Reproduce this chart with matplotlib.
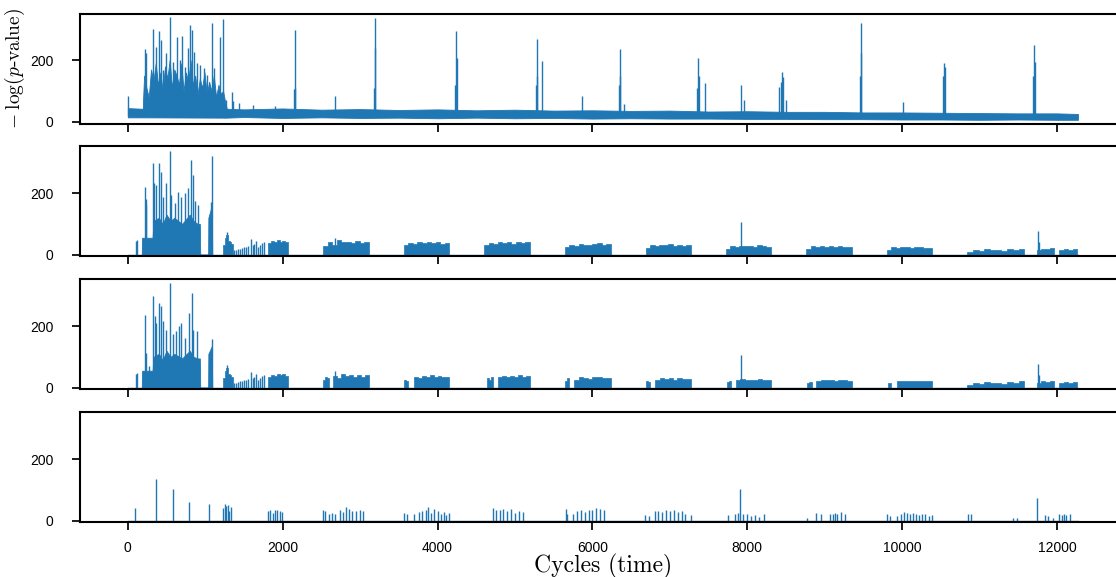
import numpy as np
import matplotlib.pyplot as plt

plt.rcParams['mathtext.fontset'] = 'cm'
plt.rcParams['font.family'] = ['Liberation Sans', 'DejaVu Sans']

blue = '#1f77b4'

# ---- panel 1 : raw score, noisy band + spikes
band_x = [0, 190, 1270, 1500, 2000, 2500, 3000, 3500, 4000, 4500, 5000, 5500, 6000, 6500, 7000,
          7500, 8000, 8500, 9000, 9500, 10000, 10500, 11000, 11500, 12000, 12270]
band_lo = [14, 14, 13, 15, 12, 14, 12, 13, 11, 13, 11, 12, 10, 11, 10, 10, 9, 9, 8, 8, 7, 7, 6, 7, 6, 6]
band_hi = [44, 42, 42, 40, 43, 39, 41, 38, 40, 37, 39, 36, 37, 35, 36, 33, 34, 32, 32, 30, 30, 29, 28, 27, 27, 25]

burst1_x = [195, 210, 240, 270, 300, 330, 360, 390, 420, 450, 480, 510, 540, 570, 600, 630, 660, 690,
            720, 750, 780, 810, 840, 870, 900, 930, 960, 990, 1020, 1050, 1080, 1110, 1140, 1170,
            1200, 1230, 1260, 1280]
burst1_lo = [20, 30, 25, 30, 40, 30, 45, 35, 40, 30, 45, 35, 40, 30, 45, 35, 30, 40,
             30, 40, 35, 45, 30, 35, 25, 35, 30, 35, 25, 30, 25, 30, 20, 25, 20, 20, 15, 15]
burst1_hi = [60, 150, 110, 80, 170, 130, 190, 120, 160, 100, 180, 140, 200, 110, 170, 150, 120, 190,
             100, 160, 130, 200, 120, 150, 90, 140, 110, 160, 90, 130, 100, 150, 80, 120, 90, 100, 60, 40]

spike1_x = [0, 220, 232, 327, 362, 405, 426, 456, 499, 542, 577, 637, 672, 706, 740, 771, 805, 823,
            853, 895, 930, 982, 1025, 1081, 1115, 1188, 1231, 1266, 1339, 1360, 1430, 1620, 1900,
            2140, 2157, 2165, 2674, 3180, 3190, 3196, 4230, 4241, 4248, 5270, 5279, 5285, 5352,
            5860, 6340, 6351, 6360, 6403, 7352, 7362, 7370, 7453, 7914, 7953, 8413, 8440, 8447,
            8455, 8499, 9455, 9463, 9470, 10010, 10530, 10540, 10548, 11695, 11702, 11710]
spike1_y = [84, 236, 223, 301, 244, 296, 266, 168, 223, 340, 195, 275, 201, 279, 179, 239, 315, 299,
            228, 190, 185, 174, 152, 320, 174, 277, 334, 71, 98, 68, 60, 55, 52,
            105, 299, 110, 85, 110, 337, 240, 120, 295, 207, 120, 269, 150, 198,
            83, 120, 238, 150, 58, 110, 207, 150, 125, 118, 71, 112, 130, 160,
            145, 71, 150, 322, 223, 63, 150, 190, 179, 150, 250, 195]

# ---- panel 2 : burst region envelope
burst2_x = [180, 185, 320, 330, 400, 450, 500, 550, 600, 700, 800, 850, 900, 930, 935, 1037, 1040, 1085, 1090]
burst2_y = [0, 55, 55, 110, 120, 100, 130, 110, 120, 100, 130, 110, 100, 100, 0, 0, 120, 160, 0]

spike2_x = [100, 115, 190, 220, 232, 241, 327, 340, 362, 405, 422, 456, 499, 542, 564, 607, 650, 693,
            736, 779, 822, 836, 865, 908, 1070, 1081, 1283,
            1375, 1400, 1425, 1450, 1475, 1500, 1525, 1550, 1585, 1610, 1635, 1653, 1680, 1705, 1730, 1755,
            2674, 7914, 11748, 11760]
spike2_y = [45, 49, 55, 219, 180, 162, 299, 232, 227, 297, 270, 189, 232, 338, 195, 168, 205, 189,
            200, 216, 308, 259, 173, 162, 170, 320, 73,
            15, 15, 18, 20, 22, 25, 25, 28, 50, 30, 35, 43, 25, 30, 38, 40,
            55, 105, 77, 40]

block2_start = [1231, 1812, 2525, 3565, 4600, 5640, 6685, 7720, 8760, 9800, 10840, 11735, 12030]
block2_end = [1360, 2070, 3110, 4150, 5190, 6240, 7270, 8305, 9345, 10390, 11575, 11960, 12260]
block2_tops = [
    [30, 55, 65, 45, 40, 35],
    [38, 45, 40, 47, 42, 46, 40],
    [28, 40, 33, 47, 40, 42, 38, 44, 37, 42],
    [30, 37, 34, 40, 38, 42, 37, 40, 36, 38],
    [32, 38, 35, 40, 37, 40, 35, 42, 38, 40],
    [24, 32, 28, 36, 32, 30, 35, 37, 32, 34],
    [22, 30, 27, 32, 30, 34, 28, 32, 29, 30],
    [20, 28, 26, 29, 27, 28, 26, 30, 27, 26],
    [17, 27, 24, 28, 26, 27, 25, 28, 26, 24],
    [15, 24, 22, 25, 24, 23, 24, 25, 22, 23],
    [10, 16, 12, 18, 14, 16, 13, 17, 15, 20],
    [15, 20, 18, 22],
    [14, 18, 16, 18],
]

# ---- panel 3 : same events, thresholded
burst3_x = [180, 185, 320, 330, 400, 450, 500, 550, 600, 700, 800, 850, 900, 930, 935, 1037, 1040, 1085, 1090]
burst3_y = [0, 55, 55, 100, 110, 90, 120, 100, 110, 95, 120, 100, 95, 95, 0, 0, 110, 135, 0]

spike3_x = [100, 115, 190, 220, 232, 270, 327, 349, 370, 405, 426, 456, 488, 542, 585, 618, 656, 682,
            736, 792, 823, 844, 896, 1081, 1283,
            1375, 1400, 1425, 1450, 1475, 1500, 1525, 1550, 1585, 1610, 1635, 1653, 1680, 1705, 1730, 1755,
            2674, 7914, 11748, 11760]
spike3_y = [45, 49, 55, 238, 114, 71, 299, 232, 211, 277, 267, 216, 189, 340, 173, 184, 200, 211,
            162, 243, 308, 189, 184, 159, 73,
            15, 15, 18, 20, 22, 25, 25, 28, 50, 30, 35, 43, 25, 30, 38, 40,
            55, 105, 77, 40]

block3_start = [1231, 1812, 2525, 2650, 3565, 3700, 4640, 4780, 5640, 5760, 6690, 6810, 7740, 7850,
                8770, 8890, 9810, 9930, 10840, 11735, 12030]
block3_end = [1360, 2070, 2600, 3110, 3620, 4150, 4720, 5190, 5700, 6240, 6740, 7270, 7790, 8305,
              8830, 9345, 9860, 10390, 11575, 11960, 12260]
block3_tops = [
    [30, 55, 65, 45, 40, 35],
    [35, 42, 38, 45, 40, 44, 38],
    [25, 35, 30],
    [38, 30, 45, 38, 40, 36, 42, 35, 40],
    [24, 20],
    [35, 32, 38, 36, 40, 35, 38, 34, 36],
    [30, 26, 34],
    [33, 38, 35, 38, 33, 40, 36, 38],
    [22, 30],
    [26, 34, 30, 28, 33, 35, 30, 32],
    [20, 18],
    [25, 30, 28, 32, 26, 30, 27, 28],
    [18, 20],
    [24, 27, 25, 26, 24, 28, 25, 24],
    [15, 18],
    [22, 26, 24, 25, 23, 26, 24, 22],
    [14, 16],
    [20, 23, 22, 21, 22, 23, 20, 21],
    [10, 16, 12, 18, 14, 16, 13, 17, 15, 20],
    [15, 20, 18, 22],
    [14, 18, 16, 18],
]

# ---- panel 4 : isolated detections
spike4_x = [95, 362, 581, 788, 1046, 1230, 1250, 1270, 1290, 1310, 1330,
            1812, 1830, 1870, 1900, 1930, 1960, 1985,
            2520, 2540, 2600, 2640, 2680, 2740, 2780, 2820, 2860, 2900, 2950, 3000, 3035,
            3565, 3600, 3700, 3760, 3800, 3850, 3880, 3920, 3960, 4000, 4040, 4080, 4110, 4150,
            4715, 4750, 4800, 4850, 4900, 4950, 5000, 5050, 5100,
            5655, 5675, 5750, 5800, 5850, 5900, 5950, 6000, 6050, 6100, 6150,
            6680, 6730, 6810, 6850, 6900, 6950, 7000, 7050, 7100, 7150, 7200, 7270,
            7750, 7840, 7880, 7910, 7950, 8000, 8050, 8100, 8150, 8215,
            8775, 8887, 8950, 9070, 9100, 9130, 9160, 9210, 9265,
            9800, 9840, 9935, 9980, 10020, 10060, 10100, 10140, 10180, 10220, 10260, 10300, 10340, 10380,
            10855, 10885, 11435, 11485, 11740, 11845, 11880, 11950, 12030, 12060, 12090, 12120, 12165]
spike4_y = [41, 135, 103, 62, 53, 40, 53, 47, 50, 30, 45,
            30, 36, 25, 33, 35, 30, 28,
            36, 30, 20, 25, 22, 33, 28, 45, 38, 30, 32, 35, 30,
            24, 20, 20, 28, 30, 35, 43, 25, 38, 30, 22, 28, 18, 25,
            41, 36, 33, 38, 30, 39, 25, 30, 28,
            38, 20, 20, 30, 34, 28, 33, 36, 41, 38, 34,
            19, 15, 32, 30, 28, 33, 30, 35, 28, 30, 20, 18,
            19, 21, 25, 103, 20, 22, 15, 18, 12, 21,
            8, 24, 22, 22, 20, 24, 22, 27, 22,
            22, 15, 15, 22, 27, 24, 20, 25, 22, 18, 20, 22, 15, 18,
            20, 20, 10, 8, 73, 18, 16, 8, 20, 18, 22, 17, 20]

x_end = 12270

fig, axes = plt.subplots(4, 1, figsize=(11.16, 5.77), dpi=100, sharex=True, sharey=True)
fig.subplots_adjust(left=0.072, right=1.0085, top=0.9766, bottom=0.0945, hspace=0.209)

ax = axes[0]
ax.fill_between(band_x, band_lo, band_hi, color=blue, lw=0.6)
ax.fill_between(burst1_x, burst1_lo, burst1_hi, color=blue, lw=0.6)
ax.vlines(spike1_x, 20, spike1_y, color=blue, lw=1.0)


def draw_blocks(ax, starts, ends, tops):
    for s, e, t in zip(starts, ends, tops):
        xs = np.linspace(s, e, len(t) + 1)
        ax.fill_between(xs, 0, list(t) + [t[-1]], step='post', color=blue, lw=0.5)


ax = axes[1]
ax.fill_between(burst2_x, 0, burst2_y, color=blue, lw=0.6)
draw_blocks(ax, block2_start, block2_end, block2_tops)
ax.vlines(spike2_x, 0, spike2_y, color=blue, lw=1.0)

ax = axes[2]
ax.fill_between(burst3_x, 0, burst3_y, color=blue, lw=0.6)
draw_blocks(ax, block3_start, block3_end, block3_tops)
ax.vlines(spike3_x, 0, spike3_y, color=blue, lw=1.0)

ax = axes[3]
ax.vlines(spike4_x, 0, spike4_y, color=blue, lw=1.0)

for ax in axes[1:]:
    ax.plot([0, x_end], [0, 0], color=blue, lw=1.0)

for ax in axes:
    ax.set_xlim(-613, 12883)
    ax.set_ylim(-6, 352)
    ax.set_yticks([0, 200])
    ax.set_xticks(range(0, 12001, 2000))
    for sp in ax.spines.values():
        sp.set_linewidth(1.5)
    ax.tick_params(direction='out', length=5.5, width=1.25, labelsize=10, pad=8)
    ax.tick_params(axis='y', pad=14)

axes[0].set_ylabel(r'$-\;\log(p$-value$)$', fontsize=14, family='cmr10', labelpad=2)
axes[3].set_xlabel('Cycles (time)', fontsize=17, family='cmr10', labelpad=-1)

fig.savefig('out.png', dpi=100)
